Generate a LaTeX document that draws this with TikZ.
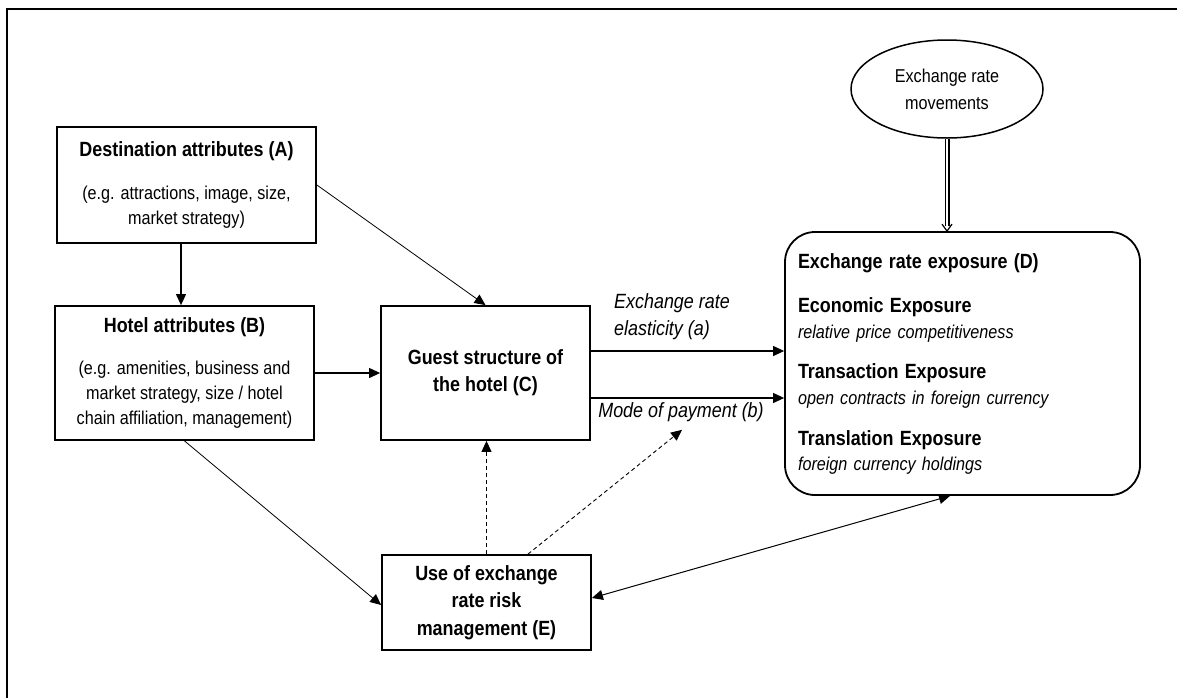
\documentclass[tikz,border=0pt]{standalone}
\usepackage{fontspec}
\setmainfont{Liberation Sans}[FakeStretch=0.87]
\usetikzlibrary{arrows.meta,shapes.geometric}
\newcommand\myreg{\fontsize{18.6pt}{25pt}\selectfont}
\newcommand\mybold{\fontsize{20.6pt}{25pt}\selectfont\bfseries}
\newcommand\mylab{\fontsize{20.6pt}{27pt}\selectfont\itshape}
\newcommand\myit{\fontsize{18.6pt}{25pt}\selectfont\itshape}
\begin{document}
\begin{tikzpicture}[x=1pt,y=-1pt,
  box/.style={draw, line width=1.8pt, align=center, font=\myreg, inner sep=4pt},
  tip/.style={-{Triangle[length=11pt,width=10pt]}},
  arr/.style={line width=1.1pt, tip},
  thinarr/.style={line width=0.8pt, tip},
  dasharr/.style={line width=0.9pt, dash pattern=on 4pt off 3pt, tip},
  lab/.style={font=\mylab, inner sep=0pt, align=left}]
\useasboundingbox (0,0) rectangle (1177,697);
\fill[white] (0,0) rectangle (1177,697);
\draw[line width=2.4pt] (6.7,700) -- (6.7,8.7) -- (1180,8.7);

\node[box, minimum width=259pt, minimum height=116pt] (A) at (186.5,185)
  {{\mybold Destination attributes (A)}\\[18pt](e.g. attractions, image, size,\\market strategy)};
\node[box, minimum width=259pt, minimum height=134pt] (B) at (184.5,373)
  {{\mybold Hotel attributes (B)}\\[17pt](e.g. amenities, business and\\market strategy, size / hotel\\chain affiliation, management)};
\node[box, minimum width=209pt, minimum height=134pt] (C) at (485.5,373)
  {\mybold Guest structure of\\[2pt]\mybold the hotel (C)};
\node[box, minimum width=209pt, minimum height=95pt] (E) at (486.5,602.5)
  {\mybold Use of exchange\\[2pt]\mybold rate risk\\[3pt]\mybold management (E)};
\node[draw, ellipse, line width=1.5pt, minimum width=192pt, minimum height=98pt, inner sep=0pt,
  align=center, font=\myreg] (M) at (947,89) {Exchange rate\\[2pt]movements};
\node[draw, line width=1.8pt, rounded corners=30pt, minimum width=355pt, minimum height=263pt,
  text width=329pt, inner xsep=13pt, align=left, font=\myreg] (D) at (962.5,363.5)
  {{\mybold Exchange rate exposure (D)}\\[19pt]
   {\mybold Economic Exposure}\\[1pt]
   {\myit relative price competitiveness}\\[15pt]
   {\mybold Transaction Exposure}\\[1pt]
   {\myit open contracts in foreign currency}\\[16pt]
   {\mybold Translation Exposure}\\[0pt]
   {\myit foreign currency holdings}};

\node[lab, anchor=west] (la) at (614,316.5) {Exchange rate\\elasticity (a)};
\node[lab] (lb) at (681,412) {Mode of payment (b)};

\draw[arr] ([xshift=-5.5pt]A.south) -- ([xshift=-3.5pt]B.north);
\draw[thinarr] (A.east) -- (C.north);
\draw[arr] (B.east) -- (C.west);
\coordinate (a1) at ([yshift=22pt]C.east);
\coordinate (b1) at ([yshift=-25pt]C.east);
\draw[arr] (a1) -- (a1 -| D.west);
\draw[arr] (b1) -- (b1 -| D.west);
\draw[thinarr] (B.south) -- ([yshift=-2.5pt]E.west);
\draw[dasharr] (E.north) -- (E.north |- C.south);
\draw[dasharr] ([xshift=41.5pt]E.north) -- ([xshift=1pt,yshift=-8pt]lb.south);
\draw[line width=1pt, {Triangle[length=11pt,width=10pt]}-{Triangle[length=11pt,width=10pt]}]
  ([yshift=4.5pt]E.east) -- ([xshift=-12.5pt]D.south);
\coordinate (mt) at (M.south);
\coordinate (mb) at (M.south |- D.north);
\draw[line width=1.2pt, double=white, double distance=2.6pt, shorten >=5pt] (mt) -- (mb);
\draw[line width=1.2pt, line join=miter] ([xshift=-5pt,yshift=7pt]mb) -- (mb) -- ([xshift=5pt,yshift=7pt]mb);
\end{tikzpicture}
\end{document}
